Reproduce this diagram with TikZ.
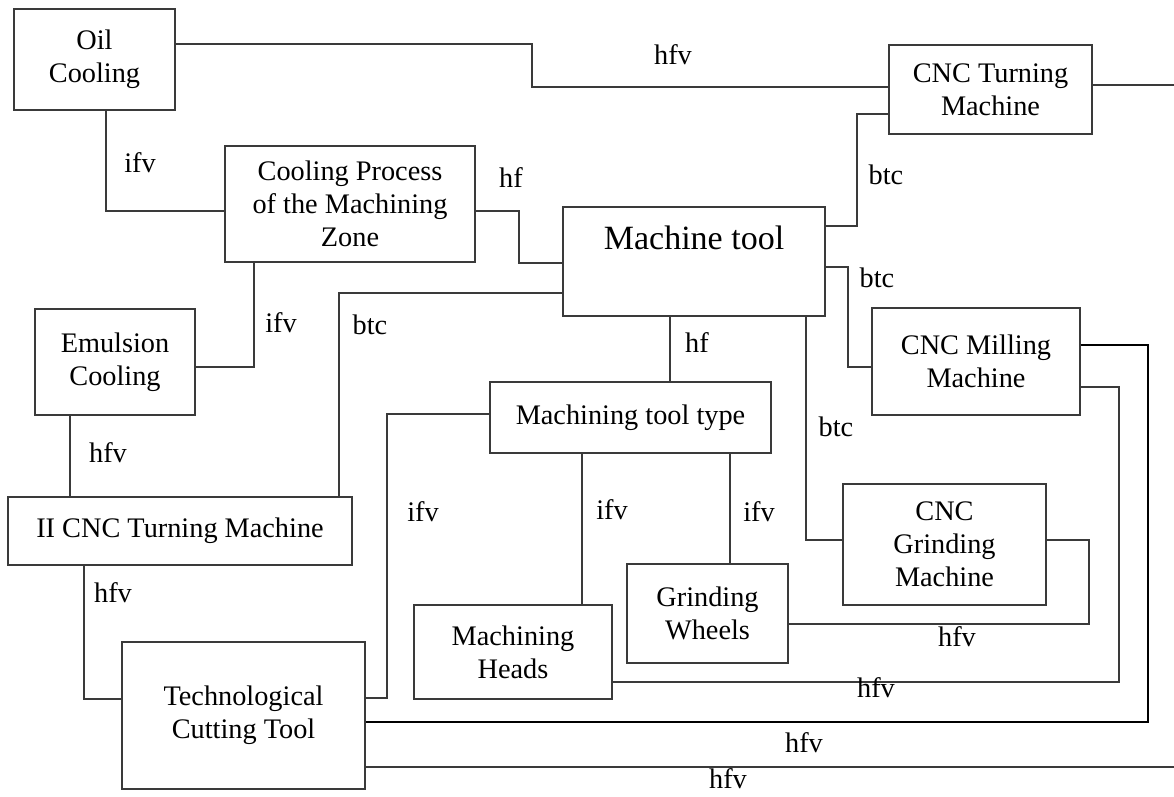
\documentclass[tikz,border=0pt]{standalone}
\usepackage{fontspec}
\setmainfont{Liberation Serif}
\definecolor{linegray}{HTML}{3A3A3A}
\begin{document}
\begin{tikzpicture}[x=1pt,y=-1pt,
  txt/.style={font=\fontsize{28.3}{33}\selectfont},
  box/.style={txt, draw=linegray, line width=1.2pt, inner sep=0pt, align=center},
  link/.style={draw=linegray, line width=1.2pt},
  heavylink/.style={draw=black, line width=2.4pt},
  rel/.style={txt, inner sep=0pt}]
\useasboundingbox (0,0) rectangle (1174,796);

% boxes
\node[box, minimum width=161pt, minimum height=101pt] (oil) at (94.5,59.5) {Oil\\Cooling};
\node[box, minimum width=203pt, minimum height=89pt] (turn) at (990.5,89.5) {CNC Turning\\Machine};
\node[box, minimum width=250pt, minimum height=116pt] (cp) at (350,204) {Cooling Process\\of the Machining\\Zone};
\node[box, minimum width=262pt, minimum height=109pt] (mt) at (694,261.5)
  {\fontsize{34}{38}\selectfont\raisebox{12pt}[0pt][0pt]{Machine tool}};
\node[box, minimum width=160pt, minimum height=106pt] (emul) at (115,362) {Emulsion\\Cooling};
\node[box, minimum width=344pt, minimum height=68pt] (ii) at (180,531) {II CNC Turning Machine};
\node[box, minimum width=243pt, minimum height=147pt] (tech) at (243.5,715.5) {Technological\\Cutting Tool};
\node[box, minimum width=281pt, minimum height=71pt] (mtt) at (630.5,417.5) {Machining tool type};
\node[box, minimum width=208pt, minimum height=107pt] (mill) at (976,361.5) {CNC Milling\\Machine};
\node[box, minimum width=203pt, minimum height=121pt] (grind) at (944.5,544.5) {CNC\\Grinding\\Machine};
\node[box, minimum width=198pt, minimum height=94pt] (heads) at (513,652) {Machining\\Heads};
\node[box, minimum width=161pt, minimum height=99pt] (wheels) at (707.5,613.5) {Grinding\\Wheels};

% free ends at the right edge
\coordinate (outA) at (1174,85);
\coordinate (outB) at (1174,767);

% connectors
\draw[link] (oil.east |- 0,44) -| (532,87) -- (turn.west |- 0,87);
\draw[link] (turn.east |- 0,85) -- (outA);
\draw[link] (turn.west |- 0,114) -| (857,226) -- (mt.east |- 0,226);
\draw[link] (oil.south -| 106,0) |- (cp.west |- 0,211);
\draw[link] (cp.east |- 0,211) -| (519,263) -- (mt.west |- 0,263);
\draw[link] (cp.south -| 254,0) |- (emul.east |- 0,367);
\draw[link] (emul.south -| 70,0) -- (ii.north -| 70,0);
\draw[link] (ii.north -| 339,0) |- (mt.west |- 0,293);
\draw[link] (ii.south -| 84,0) |- (tech.west |- 0,699);
\draw[link] (tech.east |- 0,698) -| (387,414) -- (mtt.west |- 0,414);
\draw[link] (mt.south -| 670,0) -- (mtt.north -| 670,0);
\draw[link] (mtt.south -| 582,0) -- (heads.north -| 582,0);
\draw[link] (mtt.south -| 730,0) -- (wheels.north -| 730,0);
\draw[link] (mt.east |- 0,267) -| (848,367) -- (mill.west |- 0,367);
\draw[link] (mt.south -| 806,0) |- (grind.west |- 0,540);
\draw[link] (grind.east |- 0,540) -| (1089,624) -- (wheels.east |- 0,624);
\draw[link] (mill.east |- 0,387) -| (1119,682) -- (heads.east |- 0,682);
\draw[heavylink] (mill.east |- 0,345) -| (1148,722) -- (tech.east |- 0,722);
\draw[link] (tech.east |- 0,767) -- (outB);

% relation labels
\node[rel] (r1) at (673,55) {hfv};
\node[rel] (r2) at (886,175) {btc};
\node[rel] (r3) at (140,163) {ifv};
\node[rel] (r4) at (511,178) {hf};
\node[rel] (r5) at (281,323) {ifv};
\node[rel] (r6) at (108,453) {hfv};
\node[rel] (r7) at (370,325) {btc};
\node[rel] (r8) at (113,593) {hfv};
\node[rel] (r9) at (423,512) {ifv};
\node[rel] (r10) at (697,343) {hf};
\node[rel] (r11) at (612,510) {ifv};
\node[rel] (r12) at (759,512) {ifv};
\node[rel] (r13) at (877,278) {btc};
\node[rel] (r14) at (836,427) {btc};
\node[rel] (r15) at (957,637) {hfv};
\node[rel] (r16) at (876,688) {hfv};
\node[rel] (r17) at (804,743) {hfv};
\node[rel] (r18) at (728,779) {hfv};
\end{tikzpicture}
\end{document}
